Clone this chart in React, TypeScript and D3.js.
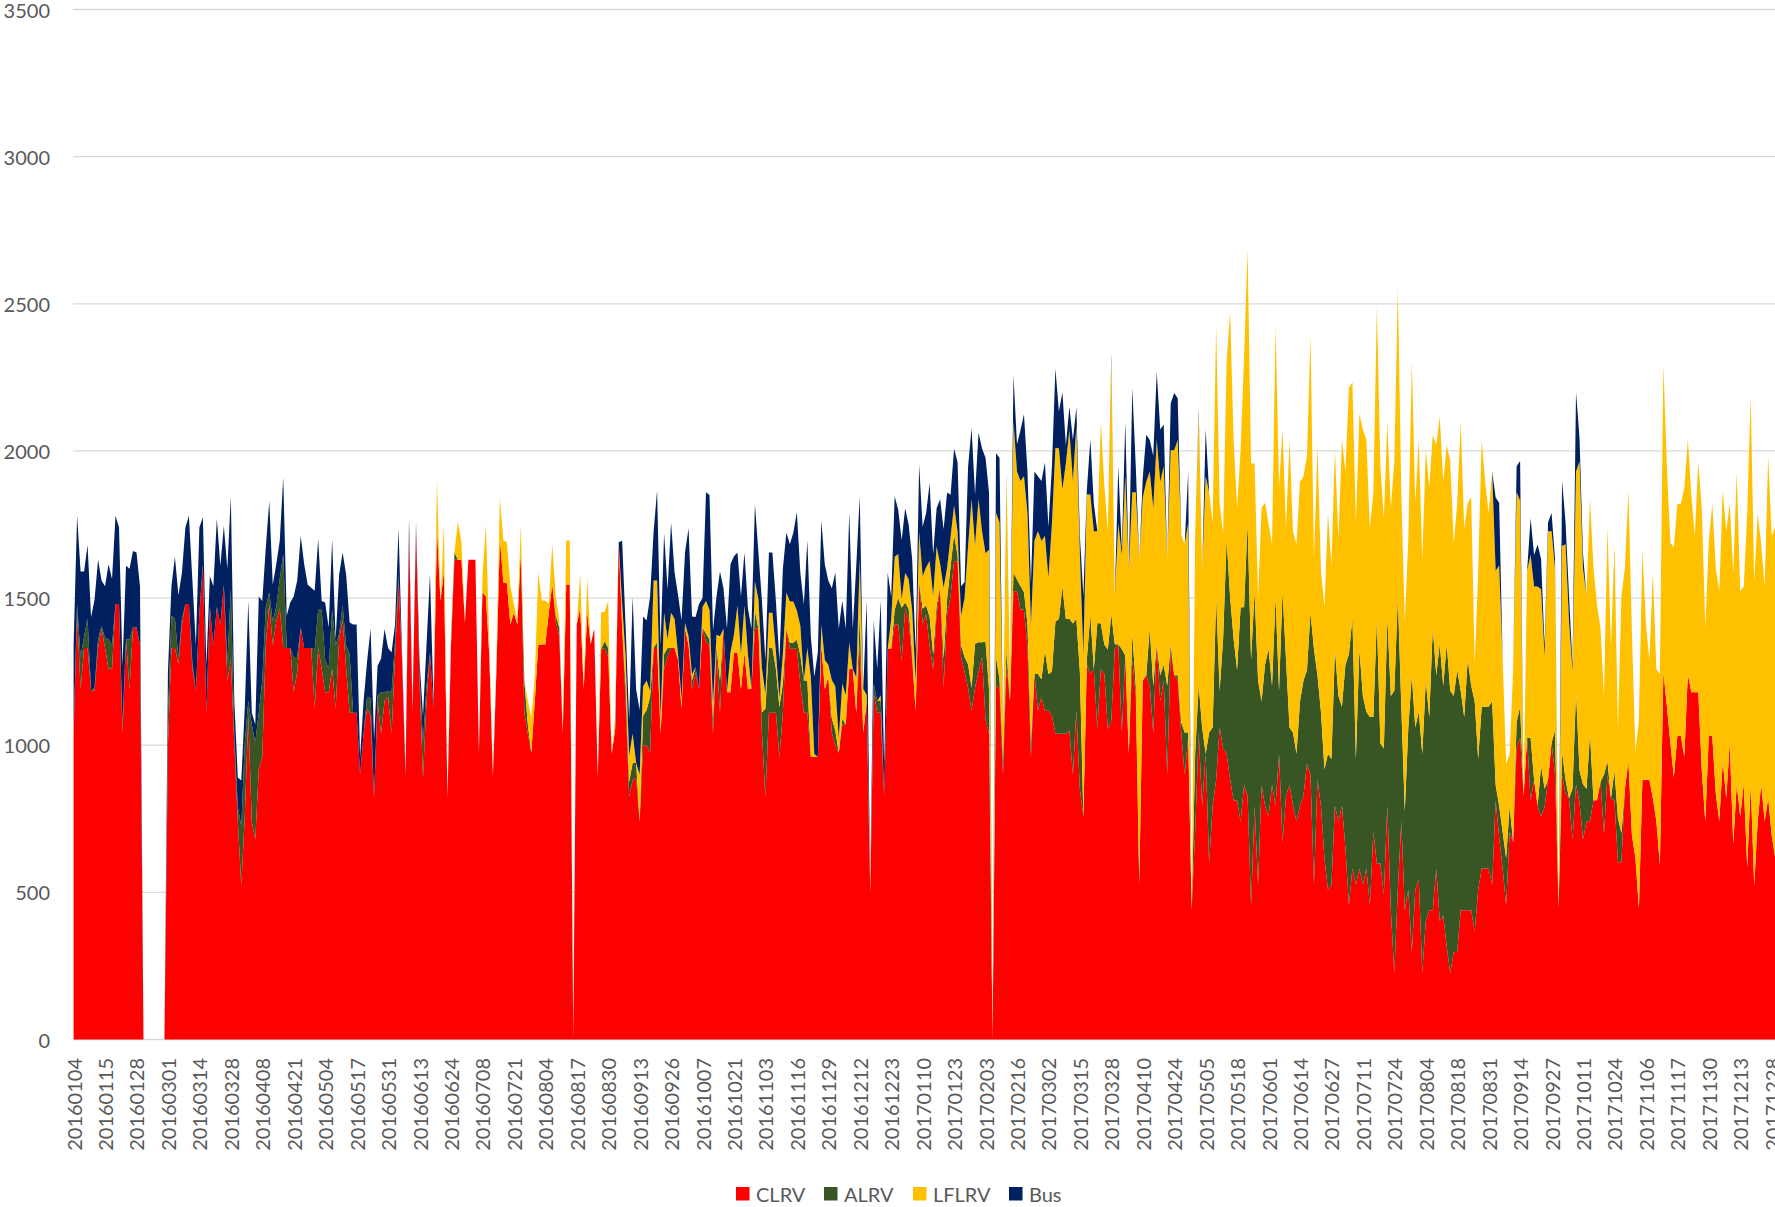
import { scaleLinear, stack, area, range } from "d3"

// x-axis tick labels, one every 9 categories
const TICK_LABELS = [
  "20160104", "20160115", "20160128", "20160301", "20160314", "20160328", "20160408", "20160421", "20160504", "20160517",
  "20160531", "20160613", "20160624", "20160708", "20160721", "20160804", "20160817", "20160830", "20160913", "20160926",
  "20161007", "20161021", "20161103", "20161116", "20161129", "20161212", "20161223", "20170110", "20170123", "20170203",
  "20170216", "20170302", "20170315", "20170328", "20170410", "20170424", "20170505", "20170518", "20170601", "20170614",
  "20170627", "20170711", "20170724", "20170804", "20170818", "20170831", "20170914", "20170927", "20171011", "20171024",
  "20171106", "20171117", "20171130", "20171213", "20171228",
]
const TICK_STEP = 9

const Y_TICKS = [0, 500, 1000, 1500, 2000, 2500, 3000, 3500]

const CLRV = [
  1050, 1450, 1190, 1330, 1330, 1185, 1185, 1330, 1395, 1330,
  1260, 1260, 1480, 1480, 1040, 1360, 1190, 1400, 1400, 1340,
  0, 0, 0, 0, 0, 0, 0, 1000, 1330, 1330,
  1275, 1410, 1480, 1480, 1260, 1185, 1450, 1615, 1110, 1470,
  1340, 1470, 1410, 1545, 1220, 1290, 1000, 740, 525, 760,
  1100, 740, 680, 920, 960, 1340, 1480, 1340, 1420, 1465,
  1330, 1330, 1330, 1180, 1250, 1400, 1330, 1330, 1330, 1125,
  1330, 1260, 1180, 1180, 1260, 1125, 1360, 1425, 1260, 1110,
  1110, 1110, 900, 1040, 1125, 1100, 820, 1150, 1040, 1150,
  1165, 1040, 1300, 1560, 1290, 890, 1720, 1110, 1735, 1220,
  890, 1150, 1315, 1125, 1735, 1490, 1590, 820, 1330, 1630,
  1630, 1630, 1415, 1630, 1630, 1630, 970, 1520, 1505, 1300,
  892, 1250, 1703, 1553, 1550, 1410, 1450, 1410, 1655, 1110,
  1040, 975, 1151, 1342, 1342, 1342, 1450, 1546, 1420, 1370,
  1040, 1546, 1546, 0, 1410, 1465, 1190, 1451, 1342, 1396,
  890, 1328, 1328, 1300, 970, 1055, 1690, 1400, 1150, 825,
  880, 890, 740, 1000, 1000, 975, 1330, 1330, 1040, 1260,
  1300, 1330, 1330, 1290, 1125, 1396, 1340, 1190, 1246, 1190,
  1400, 1350, 1340, 1040, 1315, 1110, 1396, 1180, 1180, 1315,
  1315, 1190, 1315, 1190, 1192, 1396, 1396, 1042, 824, 1110,
  1110, 1110, 960, 1110, 1396, 1328, 1328, 1328, 1206, 1110,
  1110, 960, 960, 960, 1340, 1190, 1233, 1042, 1000, 974,
  1070, 1070, 1260, 1260, 1110, 1342, 1042, 1151, 500, 1178,
  1110, 1110, 824, 1328, 1328, 1410, 1410, 1287, 1465, 1424,
  1289, 1117, 1555, 1414, 1445, 1336, 1258, 1445, 1539, 1195,
  1445, 1508, 1625, 1625, 1300, 1250, 1195, 1117, 1195, 1250,
  1300, 1086, 1040, 0, 1200, 1195, 900, 1273, 1150, 1523,
  1523, 1461, 1461, 1336, 960, 1242, 1117, 1164, 1117, 1117,
  1100, 1040, 1039, 1039, 1039, 1050, 900, 1117, 850, 758,
  1273, 1242, 1258, 1055, 1258, 1242, 1055, 1086, 1327, 1343,
  1043, 1305, 971, 1291, 1167, 527, 1220, 1238, 1202, 1043,
  1344, 1149, 1220, 900, 1327, 1238, 1220, 1043, 900, 1025,
  439, 705, 1043, 794, 971, 598, 794, 883, 1060, 989,
  971, 883, 812, 812, 741, 865, 829, 456, 794, 527,
  865, 794, 758, 865, 794, 971, 670, 829, 865, 794,
  741, 794, 829, 936, 900, 527, 883, 794, 616, 510,
  527, 794, 741, 794, 652, 456, 581, 527, 581, 527,
  581, 456, 705, 598, 598, 492, 794, 439, 226, 510,
  741, 439, 510, 297, 510, 545, 226, 403, 439, 439,
  581, 403, 421, 314, 226, 297, 297, 439, 439, 439,
  439, 368, 510, 581, 581, 581, 527, 812, 687, 581,
  456, 705, 670, 989, 1025, 829, 1025, 812, 883, 794,
  758, 789, 883, 1008, 900, 445, 898, 836, 820, 680,
  867, 805, 680, 742, 742, 813, 813, 875, 700, 900,
  820, 813, 602, 602, 852, 945, 695, 617, 445, 883,
  883, 883, 820, 742, 594, 1250, 1133, 1008, 891, 1031,
  1031, 961, 1242, 1180, 1180, 1180, 914, 742, 1031, 1031,
  836, 742, 945, 820, 1008, 664, 867, 758, 867, 586,
  867, 523, 742, 867, 742, 820, 695, 617,
]

const ALRV = [
  0, 30, 110, 40, 100, 0, 10, 30, 10, 35,
  100, 80, 0, 0, 30, 0, 170, 0, 0, 0,
  0, 0, 0, 0, 0, 0, 0, 100, 110, 100,
  20, 20, 0, 0, 20, 0, 0, 0, 0, 0,
  0, 0, 0, 0, 60, 240, 30, 50, 200, 250,
  50, 330, 330, 190, 260, 130, 40, 80, 50, 100,
  320, 0, 0, 120, 50, 0, 0, 0, 0, 200,
  130, 200, 110, 80, 200, 215, 20, 50, 80, 200,
  0, 0, 0, 0, 40, 60, 0, 20, 140, 30,
  20, 140, 50, 20, 0, 0, 0, 0, 0, 20,
  120, 50, 0, 0, 0, 0, 0, 0, 20, 25,
  0, 0, 0, 0, 0, 0, 0, 0, 0, 0,
  0, 0, 0, 0, 0, 0, 0, 0, 0, 110,
  30, 0, 0, 0, 0, 0, 0, 0, 20, 30,
  0, 0, 0, 0, 0, 0, 0, 0, 0, 0,
  0, 0, 25, 30, 0, 0, 0, 0, 50, 50,
  60, 50, 0, 100, 120, 190, 0, 20, 0, 50,
  30, 0, 0, 0, 0, 0, 0, 30, 20, 0,
  0, 30, 20, 50, 20, 110, 0, 0, 0, 0,
  0, 0, 0, 0, 0, 60, 0, 70, 300, 220,
  220, 150, 170, 100, 0, 20, 20, 30, 100, 110,
  110, 0, 0, 0, 0, 0, 0, 50, 50, 0,
  20, 0, 0, 0, 0, 100, 0, 0, 0, 30,
  40, 40, 0, 0, 0, 50, 90, 180, 20, 40,
  20, 0, 0, 50, 30, 100, 50, 30, 0, 100,
  50, 100, 90, 20, 40, 50, 80, 78, 150, 100,
  50, 266, 150, 0, 100, 30, 50, 50, 0, 63,
  40, 80, 60, 78, 50, 0, 125, 60, 203, 125,
  150, 380, 390, 500, 390, 380, 514, 313, 400, 0,
  20, 203, 0, 360, 156, 100, 270, 359, 16, 0,
  284, 0, 0, 89, 35, 0, 0, 0, 196, 159,
  0, 89, 53, 302, 17, 0, 18, 35, 143, 18,
  0, 266, 161, 266, 0, 445, 266, 621, 125, 373,
  729, 621, 550, 444, 728, 604, 924, 835, 728, 693,
  284, 479, 569, 337, 710, 214, 852, 462, 195, 249,
  230, 355, 391, 320, 551, 800, 355, 320, 302, 461,
  426, 533, 426, 337, 621, 853, 852, 426, 746, 640,
  533, 640, 391, 835, 409, 497, 639, 728, 959, 994,
  390, 337, 550, 941, 550, 569, 745, 817, 657, 959,
  657, 941, 781, 1030, 959, 870, 959, 746, 657, 852,
  763, 781, 443, 550, 550, 550, 622, 53, 107, 124,
  160, 89, 0, 89, 106, 0, 0, 213, 0, 0,
  172, 63, 0, 0, 150, 0, 79, 47, 0, 172,
  313, 109, 187, 110, 297, 0, 0, 0, 200, 45,
  0, 100, 150, 100, 0, 0, 0, 0, 0, 0,
  0, 0, 0, 0, 0, 0, 0, 0, 0, 0,
  0, 0, 0, 0, 0, 0, 0, 0, 0, 0,
  0, 0, 0, 0, 0, 0, 0, 0, 0, 0,
  0, 0, 0, 0, 0, 0, 0, 0,
]

const LFLRV = [
  0, 0, 0, 0, 0, 0, 0, 0, 0, 0,
  0, 0, 0, 0, 0, 0, 0, 0, 0, 0,
  0, 0, 0, 0, 0, 0, 0, 0, 0, 0,
  0, 0, 0, 0, 0, 0, 0, 0, 0, 0,
  0, 0, 0, 0, 0, 0, 0, 0, 0, 0,
  0, 0, 0, 0, 0, 0, 0, 0, 0, 0,
  0, 0, 0, 0, 0, 0, 0, 0, 0, 0,
  0, 0, 0, 0, 0, 0, 0, 0, 0, 0,
  0, 0, 0, 0, 0, 0, 0, 0, 0, 0,
  0, 0, 0, 0, 0, 0, 0, 0, 0, 0,
  0, 0, 0, 0, 165, 0, 160, 0, 20, 0,
  130, 60, 0, 0, 0, 0, 0, 50, 245, 40,
  0, 30, 136, 143, 140, 130, 30, 14, 95, 0,
  80, 120, 80, 245, 150, 150, 30, 137, 65, 25,
  0, 150, 150, 0, 0, 120, 0, 120, 0, 0,
  0, 125, 100, 160, 0, 40, 0, 80, 100, 90,
  100, 0, 160, 100, 100, 20, 230, 210, 50, 140,
  30, 120, 100, 20, 30, 20, 30, 20, 0, 0,
  70, 110, 100, 50, 40, 150, 0, 0, 135, 60,
  160, 120, 160, 120, 0, 100, 100, 150, 50, 120,
  120, 60, 30, 100, 123, 140, 140, 100, 100, 0,
  110, 270, 10, 0, 70, 100, 40, 130, 150, 50,
  120, 100, 90, 0, 120, 190, 150, 20, 24, 0,
  0, 20, 0, 0, 100, 180, 150, 30, 100, 100,
  150, 100, 170, 110, 130, 190, 200, 200, 78, 240,
  107, 100, 100, 80, 100, 200, 400, 641, 335, 486,
  377, 300, 474, 0, 489, 533, 100, 590, 77, 515,
  367, 357, 393, 375, 400, 453, 485, 471, 391, 328,
  500, 590, 580, 330, 530, 640, 484, 656, 400, 550,
  559, 407, 469, 312, 687, 541, 402, 867, 161, 410,
  319, 608, 622, 480, 658, 1102, 622, 657, 532, 604,
  693, 657, 675, 427, 658, 764, 799, 639, 639, 710,
  0, 746, 922, 533, 942, 817, 693, 924, 639, 355,
  603, 968, 675, 550, 533, 852, 932, 666, 435, 284,
  657, 551, 426, 480, 924, 692, 551, 444, 977, 683,
  711, 746, 693, 728, 941, 302, 781, 479, 551, 817,
  658, 675, 533, 906, 657, 906, 800, 800, 799, 906,
  923, 639, 764, 1057, 941, 782, 666, 639, 781, 1048,
  729, 640, 640, 1065, 764, 923, 658, 782, 781, 657,
  781, 773, 693, 675, 781, 515, 568, 914, 639, 533,
  640, 124, 640, 906, 764, 657, 781, 728, 817, 586,
  320, 177, 586, 782, 700, 0, 568, 621, 656, 745,
  600, 450, 844, 719, 550, 0, 700, 800, 600, 400,
  750, 1050, 733, 656, 797, 789, 664, 523, 264, 797,
  516, 767, 303, 806, 750, 922, 688, 360, 641, 781,
  531, 406, 766, 516, 648, 1047, 812, 680, 781, 789,
  789, 914, 797, 672, 531, 781, 891, 656, 664, 789,
  766, 781, 922, 907, 812, 922, 1063, 765, 672, 1203,
  1321, 1032, 1047, 813, 797, 1164, 1016, 1125,
]

const BUS = [
  290, 300, 290, 220, 250, 250, 300, 270, 155, 175,
  255, 225, 300, 260, 200, 250, 240, 260, 255, 200,
  0, 0, 0, 0, 0, 0, 0, 150, 100, 210,
  215, 155, 260, 300, 280, 155, 290, 160, 160, 105,
  200, 300, 200, 200, 320, 316, 120, 100, 155, 120,
  340, 40, 60, 395, 270, 200, 310, 125, 145, 130,
  260, 110, 155, 205, 260, 310, 285, 215, 205, 200,
  240, 30, 195, 140, 240, 20, 200, 180, 240, 107,
  300, 300, 60, 110, 120, 236, 200, 100, 115, 215,
  145, 135, 60, 157, 25, 20, 50, 15, 22, 50,
  90, 140, 265, 25, 0, 0, 0, 0, 0, 0,
  0, 0, 0, 0, 0, 0, 0, 0, 0, 0,
  0, 0, 0, 0, 0, 0, 0, 0, 0, 0,
  0, 0, 0, 0, 0, 0, 0, 0, 0, 0,
  0, 0, 0, 0, 0, 0, 0, 0, 0, 0,
  0, 0, 0, 0, 0, 0, 0, 215, 100, 120,
  465, 250, 220, 237, 204, 320, 165, 306, 250, 270,
  170, 307, 157, 200, 270, 240, 367, 197, 170, 290,
  30, 370, 390, 250, 130, 220, 137, 216, 300, 267,
  180, 195, 180, 155, 204, 263, 159, 230, 113, 205,
  205, 170, 127, 290, 204, 195, 235, 334, 180, 258,
  366, 140, 263, 355, 354, 324, 287, 311, 387, 372,
  282, 226, 442, 136, 380, 214, 0, 321, 0, 216,
  110, 322, 100, 259, 77, 206, 150, 200, 220, 186,
  174, 103, 228, 168, 184, 264, 140, 130, 219, 199,
  257, 143, 193, 236, 100, 55, 270, 242, 172, 226,
  281, 325, 195, 0, 203, 219, 0, 9, 0, 157,
  93, 172, 211, 141, 140, 235, 187, 203, 250, 172,
  195, 270, 125, 330, 60, 80, 140, 62, 61, 200,
  15, 187, 93, 0, 0, 0, 0, 20, 0, 195,
  18, 186, 0, 354, 88, 0, 67, 160, 107, 178,
  231, 178, 142, 0, 160, 195, 142, 0, 0, 177,
  0, 0, 18, 0, 160, 0, 0, 0, 0, 0,
  0, 0, 0, 0, 0, 0, 0, 0, 0, 0,
  0, 0, 0, 0, 0, 0, 0, 0, 0, 0,
  0, 0, 0, 0, 0, 0, 0, 0, 0, 0,
  0, 0, 0, 0, 0, 0, 0, 0, 0, 0,
  0, 0, 0, 0, 0, 0, 0, 0, 0, 0,
  0, 0, 0, 0, 0, 0, 0, 0, 0, 0,
  0, 0, 0, 0, 0, 0, 0, 0, 0, 0,
  0, 0, 0, 0, 0, 0, 0, 249, 213, 0,
  0, 0, 0, 88, 135, 0, 0, 125, 107, 143,
  103, 34, 31, 62, 33, 0, 223, 75, 88, 21,
  270, 80, 50, 0, 0, 0, 0, 0, 0, 0,
  0, 0, 0, 0, 0, 0, 0, 0, 0, 0,
  0, 0, 0, 0, 0, 0, 0, 0, 0, 0,
  0, 0, 0, 0, 0, 0, 0, 0, 0, 0,
  0, 0, 0, 0, 0, 0, 0, 0, 0, 0,
  0, 0, 0, 0, 0, 0, 0, 0,
]

const SERIES = [
  { key: "CLRV", color: "#FF0000", values: CLRV },
  { key: "ALRV", color: "#375623", values: ALRV },
  { key: "LFLRV", color: "#FFC000", values: LFLRV },
  { key: "Bus", color: "#002060", values: BUS },
]

const WIDTH = 1775
const HEIGHT = 1207
const FONT = "Lato, 'Open Sans', sans-serif"
const TEXT = "#595959"

export default function App() {
  const n = CLRV.length
  const x = scaleLinear().domain([0, n - 1]).range([73.6, 73.6 + 3.494 * (n - 1)])
  const y = scaleLinear().domain([0, 3500]).range([1039.5, 9.5])

  const rows = range(n).map((i) => {
    const row: Record<string, number> = { i }
    SERIES.forEach((s) => (row[s.key] = s.values[i] ?? 0))
    return row
  })
  const layers = stack<Record<string, number>>().keys(SERIES.map((s) => s.key))(rows)

  const areaGen = area<any>()
    .x((d) => x(d.data.i))
    .y0((d) => y(d[0]))
    .y1((d) => y(d[1]))

  // legend layout
  const legendX = [736, 824, 913, 1009]

  return (
    <div style={{ position: "absolute", left: 0, top: 0 }}>
      <svg width={WIDTH} height={HEIGHT} style={{ display: "block", background: "#fff" }} fontFamily={FONT}>
        {/* gridlines */}
        {Y_TICKS.map((t) => (
          <line key={t} x1={73} x2={WIDTH} y1={y(t)} y2={y(t)} stroke="#d9d9d9" strokeWidth={1.3} />
        ))}

        {/* stacked areas */}
        <g>
          {layers.map((layer, li) => (
            <path key={SERIES[li].key} d={areaGen(layer) ?? ""} fill={SERIES[li].color} />
          ))}
        </g>

        {/* y axis labels */}
        {Y_TICKS.map((t) => (
          <text key={t} x={50} y={y(t)} textAnchor="end" dominantBaseline="central" fontSize={20} fill={TEXT}>
            {t}
          </text>
        ))}

        {/* x axis labels */}
        {TICK_LABELS.map((lab, k) => (
          <text
            key={lab}
            transform={`translate(${x(k * TICK_STEP)},1058) rotate(-90)`}
            textAnchor="end"
            dominantBaseline="central"
            fontSize={20}
            fill={TEXT}
          >
            {lab}
          </text>
        ))}

        {/* legend */}
        {SERIES.map((s, i) => (
          <g key={s.key}>
            <rect x={legendX[i]} y={1187} width={13.5} height={13.5} fill={s.color} />
            <text x={legendX[i] + 20} y={1201.5} fontSize={20} fill={TEXT}>
              {s.key}
            </text>
          </g>
        ))}
      </svg>
    </div>
  )
}
